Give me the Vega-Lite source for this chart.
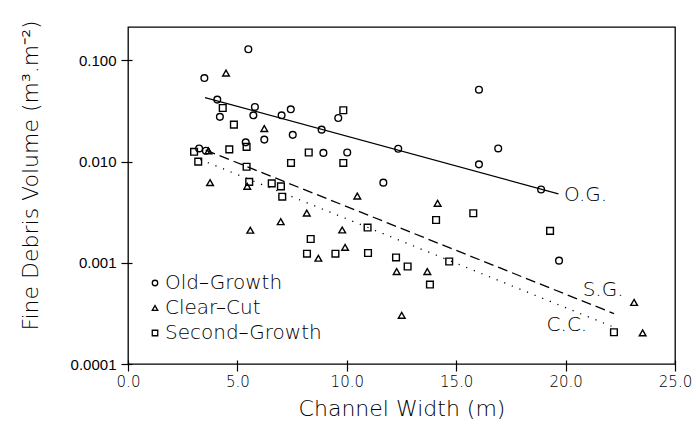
{
  "$schema": "https://vega.github.io/schema/vega-lite/v6.json",
  "autosize": "none",
  "padding": {"left": 128, "top": 27, "right": 21, "bottom": 67},
  "width": 547,
  "height": 337,
  "background": "white",
  "config": {
    "view": {"stroke": "black", "strokeWidth": 1.3},
    "font": "DejaVu Sans"
  },
  "datasets": {
    "points": [
      {"type": "Old-Growth", "x": 3.25, "y": 0.0135},
      {"type": "Old-Growth", "x": 3.56, "y": 0.0128},
      {"type": "Old-Growth", "x": 3.49, "y": 0.067},
      {"type": "Old-Growth", "x": 4.08, "y": 0.041},
      {"type": "Old-Growth", "x": 4.2, "y": 0.0277},
      {"type": "Old-Growth", "x": 5.38, "y": 0.0155},
      {"type": "Old-Growth", "x": 5.5, "y": 0.129},
      {"type": "Old-Growth", "x": 5.73, "y": 0.0287},
      {"type": "Old-Growth", "x": 5.8, "y": 0.0347},
      {"type": "Old-Growth", "x": 6.23, "y": 0.0165},
      {"type": "Old-Growth", "x": 7.02, "y": 0.0287},
      {"type": "Old-Growth", "x": 7.44, "y": 0.0329},
      {"type": "Old-Growth", "x": 7.53, "y": 0.0184},
      {"type": "Old-Growth", "x": 8.85, "y": 0.0207},
      {"type": "Old-Growth", "x": 8.93, "y": 0.0122},
      {"type": "Old-Growth", "x": 9.61, "y": 0.027},
      {"type": "Old-Growth", "x": 10.02, "y": 0.0123},
      {"type": "Old-Growth", "x": 11.67, "y": 0.0062},
      {"type": "Old-Growth", "x": 12.35, "y": 0.0134},
      {"type": "Old-Growth", "x": 16.04, "y": 0.0514},
      {"type": "Old-Growth", "x": 16.04, "y": 0.0094},
      {"type": "Old-Growth", "x": 16.92, "y": 0.0135},
      {"type": "Old-Growth", "x": 18.88, "y": 0.0053},
      {"type": "Old-Growth", "x": 19.7, "y": 0.00105},
      {"type": "Clear-Cut", "x": 3.68, "y": 0.0128},
      {"type": "Clear-Cut", "x": 3.75, "y": 0.0062},
      {"type": "Clear-Cut", "x": 4.48, "y": 0.075},
      {"type": "Clear-Cut", "x": 5.45, "y": 0.0057},
      {"type": "Clear-Cut", "x": 5.59, "y": 0.0021},
      {"type": "Clear-Cut", "x": 6.23, "y": 0.0212},
      {"type": "Clear-Cut", "x": 6.98, "y": 0.00255},
      {"type": "Clear-Cut", "x": 8.17, "y": 0.0031},
      {"type": "Clear-Cut", "x": 8.7, "y": 0.00111},
      {"type": "Clear-Cut", "x": 9.79, "y": 0.00211},
      {"type": "Clear-Cut", "x": 9.92, "y": 0.00142},
      {"type": "Clear-Cut", "x": 10.48, "y": 0.00457},
      {"type": "Clear-Cut", "x": 12.28, "y": 0.00082},
      {"type": "Clear-Cut", "x": 12.51, "y": 0.000303},
      {"type": "Clear-Cut", "x": 13.68, "y": 0.00082},
      {"type": "Clear-Cut", "x": 14.15, "y": 0.00387},
      {"type": "Clear-Cut", "x": 23.13, "y": 0.000406},
      {"type": "Clear-Cut", "x": 23.52, "y": 0.000203},
      {"type": "Second-Growth", "x": 3.02, "y": 0.0125},
      {"type": "Second-Growth", "x": 3.21, "y": 0.01},
      {"type": "Second-Growth", "x": 4.33, "y": 0.0339},
      {"type": "Second-Growth", "x": 4.63, "y": 0.0132},
      {"type": "Second-Growth", "x": 4.84, "y": 0.0232},
      {"type": "Second-Growth", "x": 5.42, "y": 0.014},
      {"type": "Second-Growth", "x": 5.42, "y": 0.0089},
      {"type": "Second-Growth", "x": 5.54, "y": 0.0063},
      {"type": "Second-Growth", "x": 6.57, "y": 0.0061},
      {"type": "Second-Growth", "x": 6.99, "y": 0.0057},
      {"type": "Second-Growth", "x": 7.05, "y": 0.0045},
      {"type": "Second-Growth", "x": 7.45, "y": 0.0097},
      {"type": "Second-Growth", "x": 8.26, "y": 0.0123},
      {"type": "Second-Growth", "x": 8.18, "y": 0.00123},
      {"type": "Second-Growth", "x": 8.35, "y": 0.00172},
      {"type": "Second-Growth", "x": 9.48, "y": 0.00123},
      {"type": "Second-Growth", "x": 9.84, "y": 0.0322},
      {"type": "Second-Growth", "x": 9.84, "y": 0.0097},
      {"type": "Second-Growth", "x": 10.95, "y": 0.00223},
      {"type": "Second-Growth", "x": 10.97, "y": 0.00125},
      {"type": "Second-Growth", "x": 12.25, "y": 0.00113},
      {"type": "Second-Growth", "x": 12.78, "y": 0.00092},
      {"type": "Second-Growth", "x": 13.8, "y": 0.00061},
      {"type": "Second-Growth", "x": 14.08, "y": 0.00265},
      {"type": "Second-Growth", "x": 14.68, "y": 0.00103},
      {"type": "Second-Growth", "x": 15.78, "y": 0.00309},
      {"type": "Second-Growth", "x": 19.29, "y": 0.00207},
      {"type": "Second-Growth", "x": 22.21, "y": 0.000206}
    ],
    "lines": [
      {"group": "OG", "x": 3.52, "y": 0.043},
      {"group": "OG", "x": 19.67, "y": 0.0048},
      {"group": "SG", "x": 3.55, "y": 0.013},
      {"group": "SG", "x": 22.21, "y": 0.000315},
      {"group": "CC", "x": 3.3, "y": 0.0105},
      {"group": "CC", "x": 22.1, "y": 0.000236}
    ],
    "labels": [
      {"label": "O.G.", "x": 19.93, "y": 0.00468},
      {"label": "S.G.", "x": 20.78, "y": 0.000542},
      {"label": "C.C.", "x": 19.13, "y": 0.000245}
    ]
  },
  "encoding": {
    "x": {
      "field": "x",
      "type": "quantitative",
      "scale": {"domain": [0, 25], "nice": false, "zero": false},
      "axis": {
        "title": "Channel Width (m)",
        "values": [0, 5, 10, 15, 20, 25],
        "format": ".1f",
        "domain": false,
        "grid": false,
        "offset": -4,
        "tickSize": 11,
        "tickColor": "black",
        "tickWidth": 1.2,
        "labelFontSize": 15,
        "labelColor": "black",
        "labelPadding": 3,
        "labelFlush": false,
        "labelFont": "DejaVu Sans",
        "labelFontWeight": 200,
        "titleFont": "DejaVu Sans",
        "titleFontSize": 22,
        "titleFontWeight": 200,
        "titleColor": "black",
        "titleBaseline": "top",
        "titleY": 38
      }
    },
    "y": {
      "field": "y",
      "type": "quantitative",
      "scale": {"type": "log", "domain": [0.0001, 0.214], "nice": false},
      "axis": {
        "title": "Fine Debris Volume (m³.m⁻²)",
        "values": [0.0001, 0.001, 0.01, 0.1],
        "labelExpr": "datum.value < 0.0005 ? '0.0001' : format(datum.value, '.3f')",
        "domain": false,
        "grid": false,
        "offset": -4,
        "tickSize": 11,
        "tickColor": "black",
        "tickWidth": 1.2,
        "labelFontSize": 15,
        "labelColor": "black",
        "labelPadding": 5,
        "labelFlush": false,
        "labelFont": "Liberation Sans",
        "labelFontWeight": "normal",
        "titleFont": "DejaVu Sans",
        "titleFontSize": 22,
        "titleFontWeight": 200,
        "titleColor": "black",
        "titleAngle": -90,
        "titleBaseline": "middle",
        "titleX": -102,
        "titleY": 148
      }
    }
  },
  "layer": [
    {
      "data": {"name": "lines"},
      "transform": [{"filter": "datum.group === 'OG'"}],
      "mark": {"type": "line", "color": "black", "strokeWidth": 1.3}
    },
    {
      "data": {"name": "lines"},
      "transform": [{"filter": "datum.group === 'SG'"}],
      "mark": {"type": "line", "color": "black", "strokeWidth": 1.3, "strokeDash": [10, 5]}
    },
    {
      "data": {"name": "lines"},
      "transform": [{"filter": "datum.group === 'CC'"}],
      "mark": {"type": "line", "color": "black", "strokeWidth": 1.3, "strokeDash": [1.2, 7]}
    },
    {
      "data": {"name": "points"},
      "mark": {"type": "point", "filled": false, "color": "black", "strokeWidth": 1.4, "size": 45, "opacity": 1},
      "encoding": {
        "shape": {
          "field": "type",
          "type": "nominal",
          "scale": {"domain": ["Old-Growth", "Clear-Cut", "Second-Growth"], "range": ["circle", "triangle-up", "square"]},
          "legend": {
            "orient": "none",
            "legendX": 17,
            "legendY": 246,
            "title": null,
            "padding": 0,
            "labelExpr": "replace(datum.label, '-', '–')",
            "labelFont": "DejaVu Sans",
            "labelFontSize": 20,
            "labelFontWeight": 200,
            "labelColor": "black",
            "labelOffset": 0,
            "symbolSize": 30,
            "symbolStrokeColor": "black",
            "symbolFillColor": "transparent",
            "symbolStrokeWidth": 1.3,
            "rowPadding": 5
          }
        }
      }
    },
    {
      "data": {"name": "labels"},
      "mark": {"type": "text", "align": "left", "baseline": "middle", "fontSize": 20, "fontWeight": 200, "font": "DejaVu Sans", "color": "black"},
      "encoding": {"text": {"field": "label", "type": "nominal"}}
    }
  ]
}
